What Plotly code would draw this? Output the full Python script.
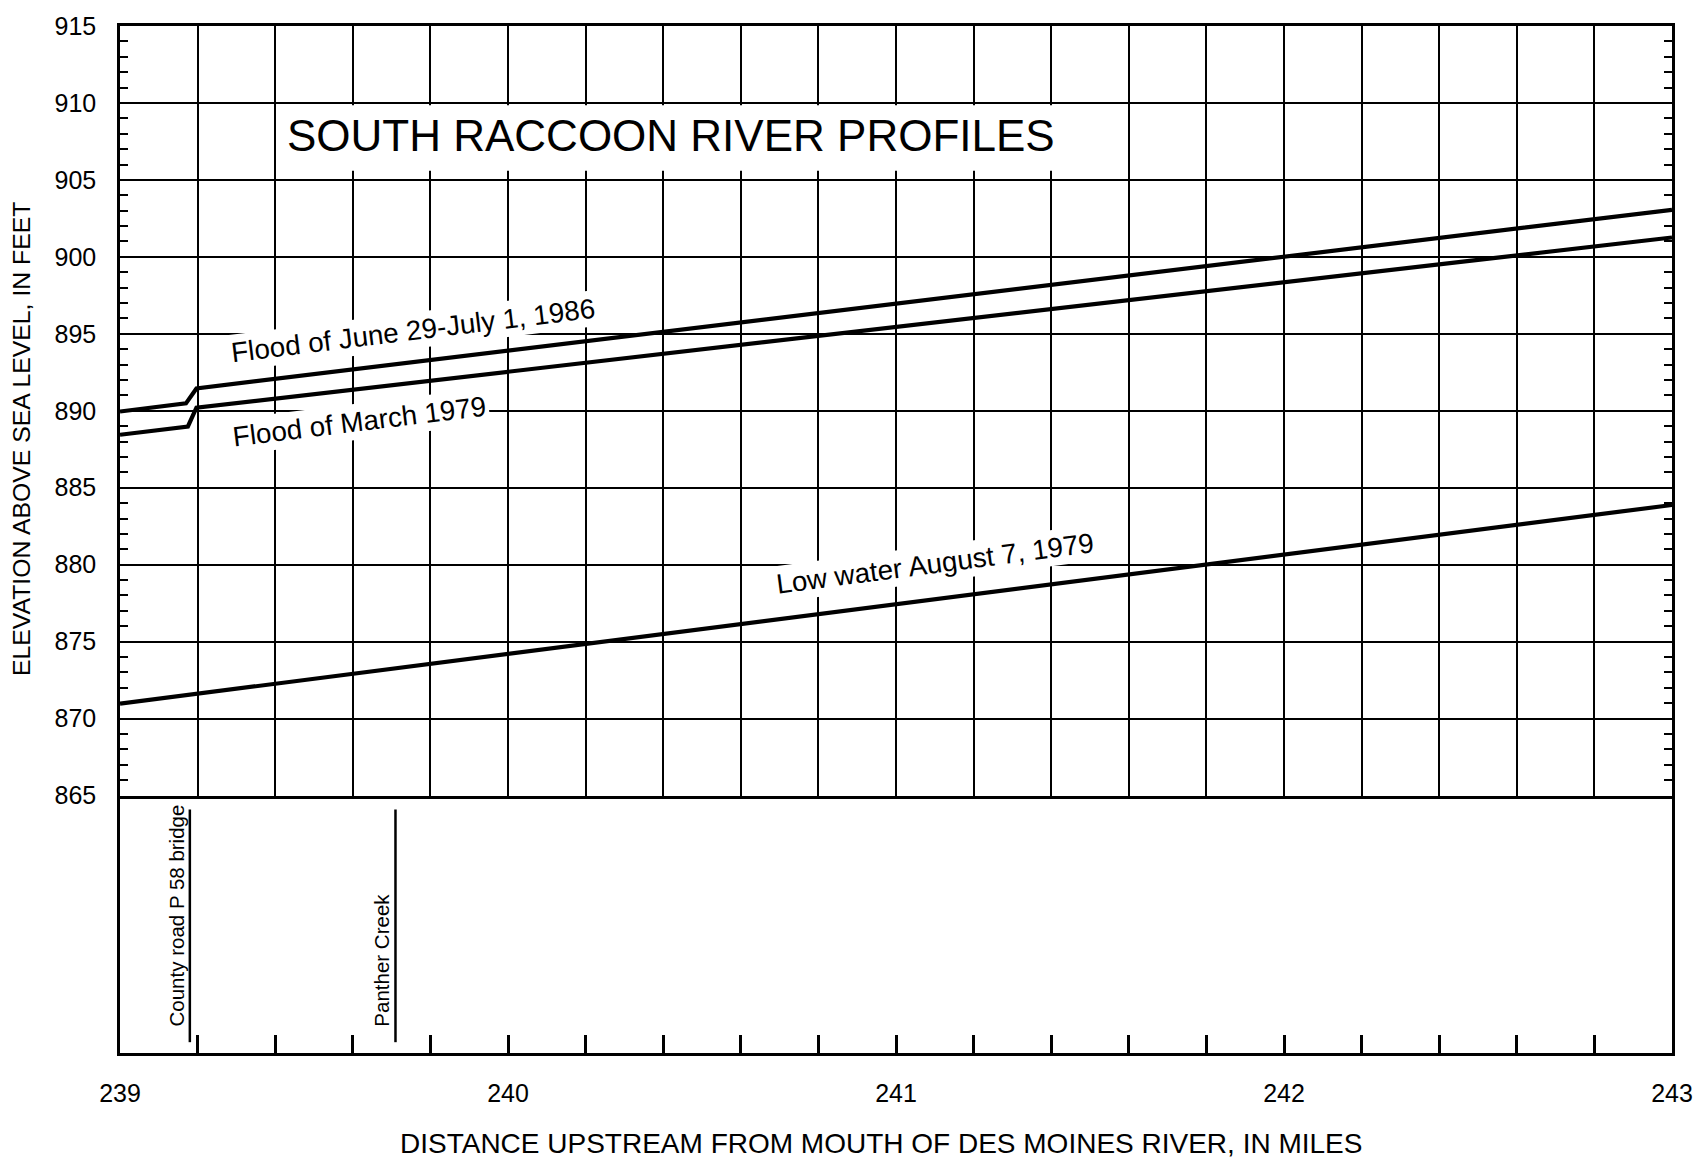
import plotly.graph_objects as go

# ---------------- data ----------------
flood_1986_x = [239.0, 239.17, 239.197, 243.0]
flood_1986_y = [889.95, 890.48, 891.45, 903.06]

flood_1979_x = [239.0, 239.175, 239.197, 243.0]
flood_1979_y = [888.44, 888.98, 890.20, 901.26]

low_water_x = [239.0, 243.0]
low_water_y = [870.97, 883.88]

feature_names = ["County road P 58 bridge", "Panther Creek"]
feature_x = [239.18, 239.71]

x_tick_vals = [239, 240, 241, 242, 243]
x_tick_text = ["239", "240", "241", "242", "243"]
y_tick_vals = [865, 870, 875, 880, 885, 890, 895, 900, 905, 910, 915]
y_tick_text = [str(v) for v in y_tick_vals]

title_text = "SOUTH RACCOON RIVER PROFILES"
x_title = "DISTANCE UPSTREAM FROM MOUTH OF DES MOINES RIVER, IN MILES"
y_title = "ELEVATION ABOVE SEA LEVEL, IN FEET"

label_texts = ["Flood of June 29-July 1, 1986", "Flood of March 1979", "Low water August 7, 1979"]
label_x = [239.755, 239.618, 241.10]
label_y = [895.2, 889.3, 880.1]
label_angle = [-7, -7, -7.5]

# ---------------- figure ----------------
FONT = "Liberation Sans, Arial, Helvetica, sans-serif"
BLACK = "#000000"
split = 0.2507

fig = go.Figure()

line_style = dict(color=BLACK, width=4.2)
fig.add_trace(go.Scatter(x=flood_1986_x, y=flood_1986_y, mode="lines", line=line_style,
                         xaxis="x2", yaxis="y2", showlegend=False, hoverinfo="skip"))
fig.add_trace(go.Scatter(x=flood_1979_x, y=flood_1979_y, mode="lines", line=line_style,
                         xaxis="x2", yaxis="y2", showlegend=False, hoverinfo="skip"))
fig.add_trace(go.Scatter(x=low_water_x, y=low_water_y, mode="lines", line=line_style,
                         xaxis="x2", yaxis="y2", showlegend=False, hoverinfo="skip"))

# feature markers in lower panel
for name, fx in zip(feature_names, feature_x):
    fig.add_trace(go.Scatter(x=[fx, fx], y=[0.042, 0.946], mode="lines",
                             line=dict(color=BLACK, width=2.5),
                             xaxis="x", yaxis="y", showlegend=False, hoverinfo="skip"))

annotations = []
for name, fx in zip(feature_names, feature_x):
    annotations.append(dict(x=fx, y=0.0965, xref="x", yref="y", text=name,
                            textangle=-90, showarrow=False, xanchor="right", yanchor="bottom",
                            xshift=0, font=dict(family=FONT, size=20.5, color=BLACK)))

for t, lx, ly, ang in zip(label_texts, label_x, label_y, label_angle):
    annotations.append(dict(x=lx, y=ly, xref="x2", yref="y2", text=t, textangle=ang,
                            showarrow=False, bgcolor="white", borderpad=2,
                            font=dict(family=FONT, size=27.8, color=BLACK)))

annotations.append(dict(x=240.42, y=907.9, xref="x2", yref="y2", text=title_text,
                        showarrow=False, font=dict(family=FONT, size=44, color=BLACK)))

annotations.append(dict(x=0.4906, y=-0.088, xref="paper", yref="paper", text=x_title,
                        showarrow=False, xanchor="center", yanchor="middle",
                        font=dict(family=FONT, size=28, color=BLACK)))
annotations.append(dict(x=-0.063, y=0.598, xref="paper", yref="paper", text=y_title,
                        textangle=-90, showarrow=False, xanchor="center", yanchor="middle",
                        font=dict(family=FONT, size=24.8, color=BLACK)))

shapes = [dict(type="rect", xref="x2", yref="y2", x0=239.413, x1=241.56, y0=905.6, y1=909.85,
               fillcolor="white", line=dict(width=0), layer="above")]

fig.update_layout(
    width=1705, height=1159,
    margin=dict(l=120, r=30, t=20, b=106),
    paper_bgcolor="white", plot_bgcolor="white",
    font=dict(family=FONT, color=BLACK),
    showlegend=False,
    annotations=annotations,
    shapes=shapes,
    xaxis=dict(domain=[0, 1], anchor="y", range=[239, 243],
               tickmode="array", tickvals=x_tick_vals, ticktext=x_tick_text,
               ticks="inside", ticklen=18, tickwidth=2.5, tickcolor=BLACK,
               minor=dict(tick0=239, dtick=0.2, ticks="inside", ticklen=18, tickwidth=2.5,
                          tickcolor=BLACK, showgrid=False),
               showline=True, linecolor=BLACK, linewidth=2.5, mirror=False,
               showgrid=False, zeroline=False,
               tickfont=dict(family=FONT, size=25, color=BLACK), ticklabelstandoff=16),
    yaxis=dict(domain=[0, split], anchor="x", range=[0, 1],
               showticklabels=False, ticks="", showgrid=False, zeroline=False,
               showline=True, linecolor=BLACK, linewidth=2.5, mirror=True),
    xaxis2=dict(domain=[0, 1], anchor="y2", range=[239, 243], matches="x",
                tickmode="linear", tick0=239, dtick=0.2, showticklabels=False, ticks="",
                showgrid=True, gridcolor=BLACK, gridwidth=2.2, zeroline=False,
                showline=True, linecolor=BLACK, linewidth=2.5, mirror=True),
    yaxis2=dict(domain=[split, 1], anchor="x2", range=[865, 915],
                tickmode="array", tickvals=y_tick_vals, ticktext=y_tick_text,
                ticks="inside", ticklen=8, tickwidth=2, tickcolor=BLACK,
                minor=dict(tick0=865, dtick=1, ticks="inside", ticklen=8, tickwidth=2,
                           tickcolor=BLACK, showgrid=False),
                showgrid=True, gridcolor=BLACK, gridwidth=2.2, zeroline=False,
                showline=True, linecolor=BLACK, linewidth=2.5, mirror="ticks",
                tickfont=dict(family=FONT, size=25, color=BLACK), ticklabelstandoff=16),
)

fig.write_html("out.html", config={"displayModeBar": False},
               post_script="document.body.style.margin='0px';document.body.style.overflow='hidden';")
